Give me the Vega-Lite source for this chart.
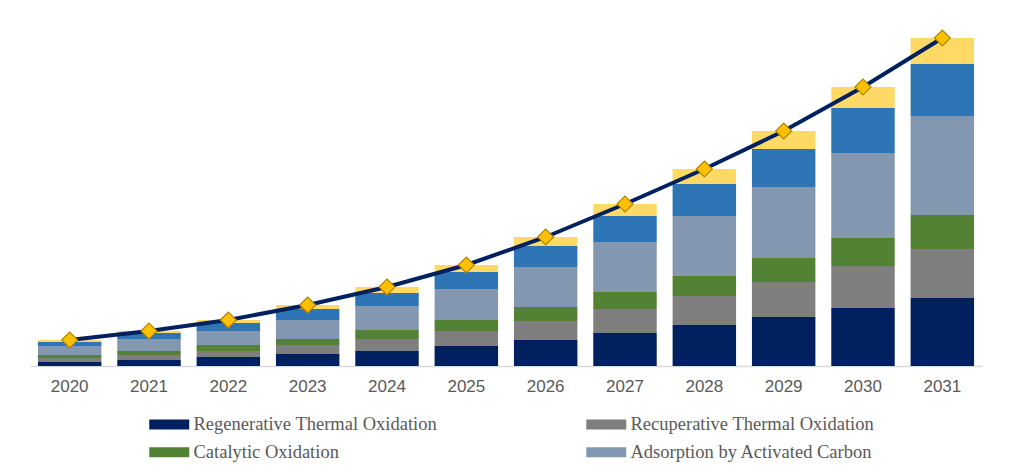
{
  "$schema": "https://vega.github.io/schema/vega-lite/v6.json",
  "width": 952,
  "height": 340,
  "autosize": {"type": "none"},
  "padding": {"left": 30, "top": 26, "right": 33, "bottom": 107},
  "background": "white",
  "config": {"view": {"stroke": null}},
  "data": {
    "values": [
      {"year": "2020", "Regenerative Thermal Oxidation": 4, "Recuperative Thermal Oxidation": 4, "Catalytic Oxidation": 3, "Adsorption by Activated Carbon": 9, "Biofiltration": 4, "Others": 2},
      {"year": "2021", "Regenerative Thermal Oxidation": 6, "Recuperative Thermal Oxidation": 5, "Catalytic Oxidation": 4, "Adsorption by Activated Carbon": 12, "Biofiltration": 6, "Others": 2},
      {"year": "2022", "Regenerative Thermal Oxidation": 9, "Recuperative Thermal Oxidation": 6, "Catalytic Oxidation": 6, "Adsorption by Activated Carbon": 14, "Biofiltration": 8, "Others": 3},
      {"year": "2023", "Regenerative Thermal Oxidation": 12, "Recuperative Thermal Oxidation": 9, "Catalytic Oxidation": 6, "Adsorption by Activated Carbon": 19, "Biofiltration": 11, "Others": 4},
      {"year": "2024", "Regenerative Thermal Oxidation": 15, "Recuperative Thermal Oxidation": 12, "Catalytic Oxidation": 9, "Adsorption by Activated Carbon": 24, "Biofiltration": 13, "Others": 6},
      {"year": "2025", "Regenerative Thermal Oxidation": 20, "Recuperative Thermal Oxidation": 15, "Catalytic Oxidation": 11, "Adsorption by Activated Carbon": 31, "Biofiltration": 17, "Others": 7},
      {"year": "2026", "Regenerative Thermal Oxidation": 26, "Recuperative Thermal Oxidation": 19, "Catalytic Oxidation": 14, "Adsorption by Activated Carbon": 40, "Biofiltration": 21, "Others": 9},
      {"year": "2027", "Regenerative Thermal Oxidation": 33, "Recuperative Thermal Oxidation": 24, "Catalytic Oxidation": 17, "Adsorption by Activated Carbon": 50, "Biofiltration": 26, "Others": 12},
      {"year": "2028", "Regenerative Thermal Oxidation": 41, "Recuperative Thermal Oxidation": 29, "Catalytic Oxidation": 20, "Adsorption by Activated Carbon": 60, "Biofiltration": 32, "Others": 15},
      {"year": "2029", "Regenerative Thermal Oxidation": 49, "Recuperative Thermal Oxidation": 35, "Catalytic Oxidation": 24, "Adsorption by Activated Carbon": 71, "Biofiltration": 38, "Others": 18},
      {"year": "2030", "Regenerative Thermal Oxidation": 58, "Recuperative Thermal Oxidation": 42, "Catalytic Oxidation": 28, "Adsorption by Activated Carbon": 85, "Biofiltration": 45, "Others": 21},
      {"year": "2031", "Regenerative Thermal Oxidation": 68, "Recuperative Thermal Oxidation": 49, "Catalytic Oxidation": 34, "Adsorption by Activated Carbon": 99, "Biofiltration": 52, "Others": 26}
    ]
  },
  "transform": [
    {"fold": ["Regenerative Thermal Oxidation", "Recuperative Thermal Oxidation", "Catalytic Oxidation", "Adsorption by Activated Carbon", "Biofiltration", "Others"], "as": ["segment", "value"]},
    {"calculate": "indexof(['Regenerative Thermal Oxidation', 'Recuperative Thermal Oxidation', 'Catalytic Oxidation', 'Adsorption by Activated Carbon', 'Biofiltration', 'Others'], datum.segment)", "as": "rank"}
  ],
  "encoding": {
    "x": {
      "field": "year",
      "type": "ordinal",
      "scale": {"paddingInner": 0.2, "paddingOuter": 0.1},
      "axis": {
        "title": null,
        "labelAngle": 0,
        "ticks": false,
        "domainColor": "#d9d9d9",
        "domainWidth": 1.5,
        "labelFont": "Liberation Sans",
        "labelFontSize": 17,
        "labelColor": "#595959",
        "labelPadding": 12
      }
    }
  },
  "layer": [
    {
      "mark": {"type": "bar"},
      "encoding": {
        "y": {"field": "value", "type": "quantitative", "stack": "zero", "scale": {"domain": [0, 340], "nice": false}, "axis": null},
        "order": {"field": "rank", "type": "quantitative", "sort": "ascending"},
        "color": {
          "field": "segment",
          "type": "nominal",
          "scale": {
            "domain": ["Regenerative Thermal Oxidation", "Recuperative Thermal Oxidation", "Catalytic Oxidation", "Adsorption by Activated Carbon", "Biofiltration", "Others"],
            "range": ["#002060", "#7f7f7f", "#548235", "#8497b0", "#2e75b6", "#ffd966"]
          },
          "legend": {
            "values": ["Regenerative Thermal Oxidation", "Recuperative Thermal Oxidation", "Catalytic Oxidation", "Adsorption by Activated Carbon"],
            "title": null,
            "orient": "none",
            "legendX": 130,
            "legendY": 389,
            "direction": "horizontal",
            "columns": 2,
            "columnPadding": 149,
            "rowPadding": 9,
            "symbolType": "M-4,-1L4,-1L4,1L-4,1Z",
            "symbolSize": 100,
            "symbolStrokeWidth": 0,
            "symbolOpacity": 1,
            "labelFont": "Liberation Serif",
            "labelFontSize": 18.5,
            "labelColor": "#595959",
            "labelOffset": 15,
            "labelLimit": 400
          }
        }
      }
    },
    {
      "transform": [{"aggregate": [{"op": "sum", "field": "value", "as": "total"}], "groupby": ["year"]}],
      "mark": {"type": "line", "color": "#002060", "strokeWidth": 4},
      "encoding": {"y": {"field": "total", "type": "quantitative"}}
    },
    {
      "transform": [{"aggregate": [{"op": "sum", "field": "value", "as": "total"}], "groupby": ["year"]}],
      "mark": {"type": "point", "shape": "diamond", "filled": true, "fill": "#ffc000", "stroke": "#b08600", "strokeWidth": 1.2, "size": 256, "opacity": 1},
      "encoding": {"y": {"field": "total", "type": "quantitative"}}
    }
  ]
}
